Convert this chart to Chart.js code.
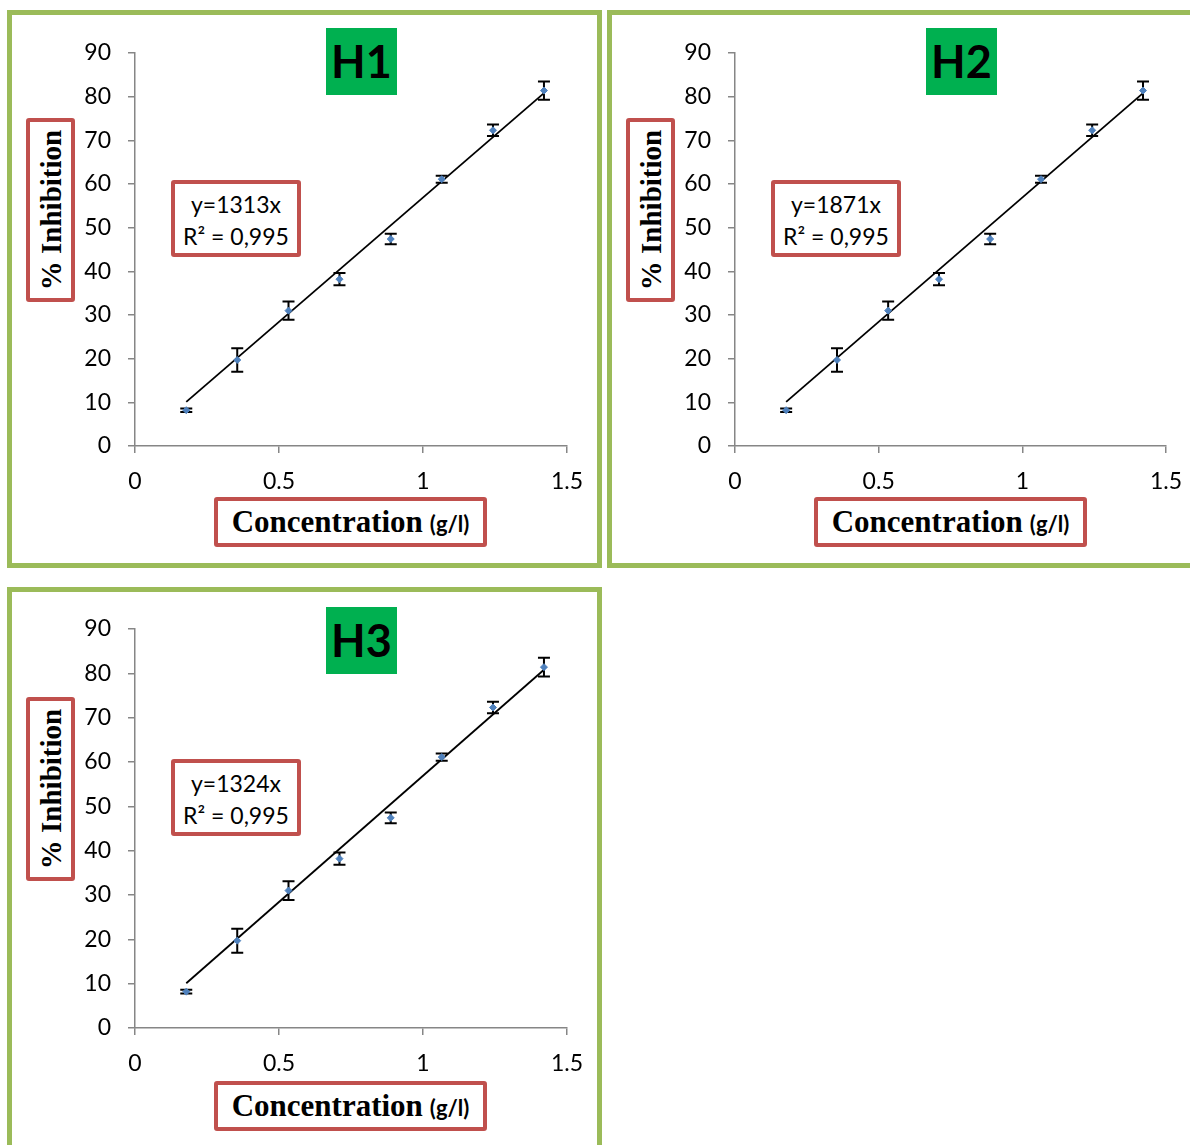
<!DOCTYPE html>
<html>
<head>
<meta charset="utf-8">
<script src="https://cdn.jsdelivr.net/npm/chart.js@4.4.1/dist/chart.umd.min.js"></script>
<style>
  html, body { margin: 0; padding: 0; background: #fff; }
  #page { position: relative; width: 1190px; height: 1145px; overflow: hidden; }
  .panel { position: absolute; box-sizing: border-box; border: 5px solid #9BBB59; }
  canvas { position: absolute; }
  .tag {
    position: absolute; width: 71px; height: 67px; background: #00B050;
    font: bold 45px Lato, sans-serif; color: #000; text-align: center; line-height: 67px;
    z-index: 2;
  }
  .eq {
    position: absolute; box-sizing: border-box; width: 130px; height: 77px;
    border: 4px solid #C0504D; border-radius: 3px; background: #fff;
    font: 23px Lato, sans-serif; color: #000; text-align: center; line-height: 32px;
    padding-top: 4px; z-index: 2;
  }
  .ytitle {
    position: absolute; box-sizing: border-box; width: 49px; height: 184px;
    border: 4px solid #C0504D; border-radius: 3px; background: #fff; z-index: 2;
  }
  .ytitle span {
    position: absolute; left: 50%; top: 50%; white-space: nowrap;
    transform: translate(-50%, -50%) rotate(-90deg);
    font: bold 29px "Liberation Serif", serif; color: #000;
  }
  .xtitle {
    position: absolute; box-sizing: border-box; width: 273px; height: 50px;
    border: 4px solid #C0504D; border-radius: 3px; background: #fff; z-index: 2;
    text-align: center; line-height: 52px; white-space: nowrap;
  }
  .xtitle b { font: bold 31px "Liberation Serif", serif; color: #000; }
  .xtitle small { display: inline-block; font: bold 22px Lato, sans-serif; color: #000; margin-left: 7px; }
</style>
</head>
<body>
<div id="page"></div>
<script>
// measured concentrations (g/l), mean % inhibition and standard deviation
const conc = [0.178, 0.355, 0.533, 0.71, 0.888, 1.065, 1.243, 1.42];
const inhib = [8.2, 19.7, 31.0, 38.2, 47.4, 61.1, 72.3, 81.4];
const sd = [0.4, 2.7, 2.1, 1.4, 1.2, 0.8, 1.3, 2.1];

// linear fit drawn through the data range
const trendX = [0.178, 1.42];
const trendY = [10.1, 80.8];

const extracts = ["H1", "H2", "H3"];
const equations = ["y=1313x", "y=1871x", "y=1324x"];
const r2 = "R² = 0,995";

const xTicks = [0, 0.5, 1, 1.5];
const yMax = 90;

// page layout: border box, canvas box and plot area of each panel
const layout = [
  { box: [7, 10, 595, 558], cv: [7, 10, 594, 557], area: [135, 53, 567, 446], dy: 0, dx: 0 },
  { box: [607, 10, 600, 558], cv: [607, 10, 594, 557], area: [735, 53, 1166, 446], dy: 0, dx: 600 },
  { box: [7, 587, 595, 600], cv: [7, 587, 594, 557], area: [135, 629, 567, 1028], dy: 579, dx: 0 }
];

const errorBars = {
  id: "errorBars",
  beforeDatasetsDraw(chart) {
    const { ctx, scales: { x, y } } = chart;
    ctx.save();
    ctx.strokeStyle = "#000";
    ctx.lineWidth = 2;
    conc.forEach((c, i) => {
      const px = x.getPixelForValue(c);
      const top = y.getPixelForValue(inhib[i] + sd[i]);
      const bot = y.getPixelForValue(inhib[i] - sd[i]);
      ctx.beginPath();
      ctx.moveTo(px, top); ctx.lineTo(px, bot);
      ctx.moveTo(px - 6, top); ctx.lineTo(px + 6, top);
      ctx.moveTo(px - 6, bot); ctx.lineTo(px + 6, bot);
      ctx.stroke();
    });
    ctx.restore();
  }
};

const page = document.getElementById("page");
const tickFont = { family: "Lato", size: 23 };
const axisGray = "#868686";

function el(cls, x, y, html) {
  const d = document.createElement("div");
  d.className = cls;
  d.style.left = x + "px";
  d.style.top = y + "px";
  d.innerHTML = html;
  page.appendChild(d);
  return d;
}

layout.forEach((p, k) => {
  const b = document.createElement("div");
  b.className = "panel";
  b.style.left = p.box[0] + "px"; b.style.top = p.box[1] + "px";
  b.style.width = p.box[2] + "px"; b.style.height = p.box[3] + "px";
  page.appendChild(b);

  const cv = document.createElement("canvas");
  cv.width = p.cv[2]; cv.height = p.cv[3];
  cv.style.left = p.cv[0] + "px"; cv.style.top = p.cv[1] + "px";
  page.appendChild(cv);

  const pad = {
    left: p.area[0] - p.cv[0] - 60,
    top: p.area[1] - p.cv[1],
    right: p.cv[0] + p.cv[2] - p.area[2],
    bottom: p.cv[1] + p.cv[3] - p.area[3] - 50
  };

  new Chart(cv, {
    type: "scatter",
    data: {
      datasets: [
        {
          label: extracts[k],
          data: conc.map((c, i) => ({ x: c, y: inhib[i] })),
          pointStyle: "rectRot",
          pointRadius: 3.5,
          backgroundColor: "#4F81BD",
          borderColor: "#4F81BD",
          borderWidth: 1,
          order: 0
        },
        {
          label: "fit",
          data: trendX.map((t, i) => ({ x: t, y: trendY[i] })),
          showLine: true,
          pointRadius: 0,
          borderColor: "#000",
          borderWidth: 1.8,
          order: 1
        }
      ]
    },
    options: {
      responsive: false,
      animation: false,
      events: [],
      layout: { padding: pad },
      plugins: { legend: { display: false }, tooltip: { enabled: false } },
      scales: {
        x: {
          type: "linear", min: 0, max: 1.5,
          afterBuildTicks: s => { s.ticks = xTicks.map(v => ({ value: v })); },
          afterFit: s => { s.height = 50; },
          ticks: { color: "#000", font: tickFont, padding: 15, callback: v => String(v) },
          grid: { drawOnChartArea: false, drawTicks: true, tickLength: 7, color: axisGray, lineWidth: 1.5 },
          border: { color: axisGray, width: 1.5 }
        },
        y: {
          type: "linear", min: 0, max: yMax,
          ticks: { stepSize: 10, color: "#000", font: tickFont, padding: 17 },
          afterFit: s => { s.width = 60; },
          grid: { drawOnChartArea: false, drawTicks: true, tickLength: 7, color: axisGray, lineWidth: 1.5 },
          border: { color: axisGray, width: 1.5 }
        }
      }
    },
    plugins: [errorBars]
  });

  el("tag", 326 + p.dx, 28 + p.dy, extracts[k]);
  el("eq", 171 + p.dx, 180 + p.dy, equations[k] + "<br>" + r2);
  el("ytitle", 26 + p.dx, 118 + p.dy, "<span>% Inhibition</span>");
  el("xtitle", 214 + p.dx, 497 + (k === 2 ? 584 : 0), "<b>Concentration</b><small>(g/l)</small>");
});
</script>
</body>
</html>
